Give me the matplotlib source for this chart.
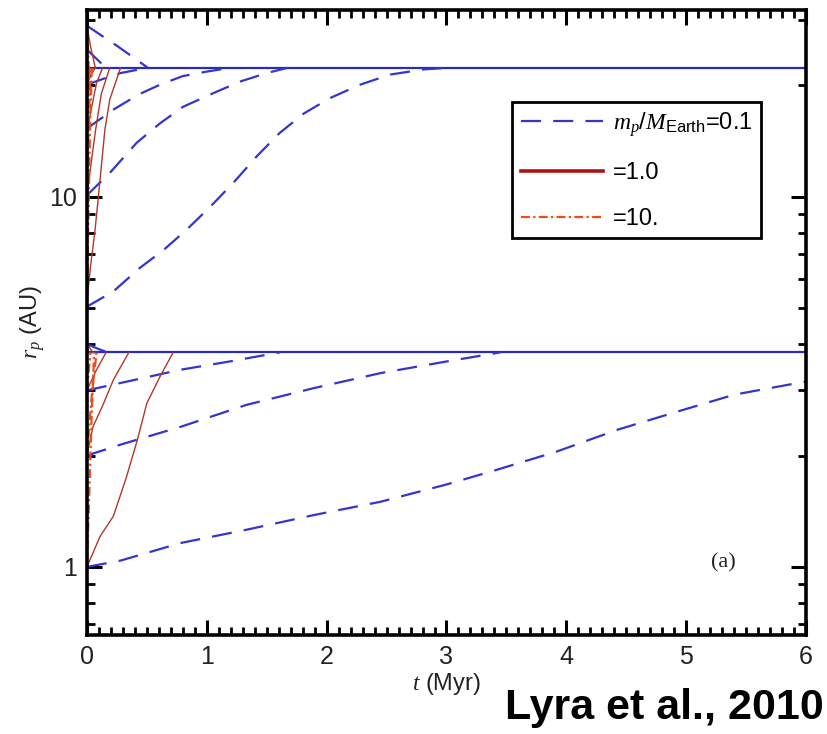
import matplotlib
matplotlib.use("Agg")
import matplotlib.pyplot as plt
from matplotlib.ticker import MultipleLocator, LogLocator, NullFormatter, FixedLocator, FixedFormatter

plt.rcParams['font.family'] = ['Liberation Sans', 'DejaVu Sans']
plt.rcParams['mathtext.fontset'] = 'custom'
plt.rcParams['mathtext.it'] = 'Liberation Serif:italic'
plt.rcParams['mathtext.rm'] = 'Liberation Sans'
plt.rcParams['mathtext.sf'] = 'Liberation Sans'

# planet-trap radii (AU) where migration stalls
r_trap = [22.3, 3.8]

# m_p = 0.1 M_Earth tracks: (t in Myr, r in AU)
low_t = [
    [0, 0.12, 0.25, 0.38, 0.51],
    [0, 0.08, 0.16],
    [0, 0.11, 0.28, 0.5],
    [0, 0.22, 0.43, 0.61, 0.80, 1.0, 1.19],
    [0, 0.19, 0.415, 0.61, 0.80, 1.06, 1.28, 1.50, 1.67],
    [0, 0.22, 0.44, 0.64, 0.83, 1.03, 1.22, 1.42, 1.61, 1.81, 2.03, 2.28, 2.53, 2.81, 3.0],
    [0, 0.08, 0.17],
    [0, 0.28, 0.78, 1.19, 1.61],
    [0, 0.28, 0.78, 1.33, 1.89, 2.45, 3.0, 3.45],
    [0, 0.28, 0.78, 1.33, 1.89, 2.45, 3.0, 3.42, 3.92, 4.43, 4.98, 5.40, 6.0],
]
low_r = [
    [29, 27.3, 25.6, 23.9, 22.3],
    [25, 23.6, 22.3],
    [20.1, 20.7, 21.6, 22.3],
    [15.3, 17.2, 18.9, 20.1, 21.2, 21.8, 22.3],
    [10.1, 11.6, 14.0, 15.8, 17.5, 19.1, 20.5, 21.6, 22.3],
    [5.05, 5.55, 6.42, 7.19, 8.14, 9.41, 10.9, 12.9, 14.9, 16.8, 18.5, 20.1, 21.4, 22.1, 22.3],
    [4.0, 3.9, 3.8],
    [3.0, 3.14, 3.41, 3.59, 3.8],
    [2.0, 2.14, 2.39, 2.74, 3.04, 3.34, 3.59, 3.8],
    [1.0, 1.04, 1.16, 1.26, 1.38, 1.50, 1.67, 1.83, 2.05, 2.35, 2.66, 2.92, 3.17],
]

# m_p = 1 M_Earth tracks
mid_t = [
    [0, 0.01, 0.03, 0.067, 0.09, 0.15, 0.19, 0.28],
    [0, 0.03, 0.07, 0.12, 0.19],
    [0, 0.04, 0.08, 0.13],
    [0, 0.03, 0.07],
    [0, 0.03, 0.07],
    [0, 0.11, 0.22, 0.33, 0.42, 0.50, 0.61, 0.72],
    [0, 0.05, 0.14, 0.22, 0.35],
    [0, 0.08, 0.16],
    [0, 0.05],
]
mid_r = [
    [5, 5.6, 6.5, 8.1, 9.6, 15.2, 18.3, 22.3],
    [10, 12, 15, 19, 22.3],
    [15, 17.5, 20.3, 22.3],
    [20, 21.3, 22.3],
    [29, 25.5, 22.3],
    [1, 1.21, 1.37, 1.75, 2.2, 2.77, 3.27, 3.8],
    [2, 2.39, 2.77, 3.2, 3.8],
    [3, 3.41, 3.8],
    [4, 3.8],
]

# m_p = 10 M_Earth tracks
high_t = [
    [0, 0.01, 0.025, 0.04],
    [0, 0.015, 0.03],
    [0, 0.02],
    [0, 0.01],
    [0, 0.015],
    [0, 0.02, 0.04, 0.06],
    [0, 0.04, 0.08],
    [0, 0.03],
    [0, 0.01],
]
high_r = [
    [5, 8, 15, 22.3],
    [10, 16, 22.3],
    [15, 22.3],
    [20, 22.3],
    [29, 22.3],
    [1, 1.6, 2.6, 3.8],
    [2, 2.9, 3.8],
    [3, 3.8],
    [4, 3.8],
]

blue = '#3434d0'
dred = '#b0382a'
ored = '#ee4a1c'

fig = plt.figure(figsize=(8.28, 7.34), dpi=100)
ax = fig.add_axes([0.105, 0.135, 0.8685, 0.8515])

for r in r_trap:
    ax.axhline(r, color='#2a2ac0', lw=1.6, zorder=1)

for i, (t, r) in enumerate(zip(low_t, low_r)):
    ax.plot(t, r, color=blue, lw=1.6, ls=(0, (9, 5.5)),
            label=r'$m_p/M_{\mathrm{Earth}}$=0.1' if i == 0 else None)
for i, (t, r) in enumerate(zip(mid_t, mid_r)):
    ax.plot(t, r, color=dred, lw=1.0,
            label='=1.0' if i == 0 else None)
for i, (t, r) in enumerate(zip(high_t, high_r)):
    ax.plot(t, r, color=ored, lw=1.6, ls=(0, (4, 1.5, 1, 1.5)),
            label='=10.' if i == 0 else None)

ax.set_yscale('log')
ax.set_xlim(0, 6)
ax.set_ylim(0.655, 32)

ax.xaxis.set_major_locator(MultipleLocator(1))
ax.xaxis.set_minor_locator(MultipleLocator(0.1))
ax.yaxis.set_major_locator(FixedLocator([1, 10]))
ax.yaxis.set_major_formatter(FixedFormatter(['1', '10']))
ax.yaxis.set_minor_locator(LogLocator(base=10, subs=range(2, 10)))
ax.yaxis.set_minor_formatter(NullFormatter())

ax.tick_params(which='both', direction='in', top=True, right=True,
               labelsize=18, labelcolor='#222222', pad=7)
ax.tick_params(which='major', length=11, width=2.2)
ax.tick_params(which='minor', length=6, width=2.0)
for s in ax.spines.values():
    s.set_linewidth(2.6)

ax.set_xlabel(r'$t$ (Myr)', fontsize=17, color='#222222', labelpad=2)
ax.set_ylabel(r'$r_p$ (AU)', fontsize=17, color='#222222', labelpad=2)

leg = ax.legend(loc='upper right', bbox_to_anchor=(0.937, 0.853), fontsize=17,
                handlelength=3.5, labelspacing=1.0, borderpad=0.35,
                borderaxespad=0, handletextpad=0.4, fancybox=False, framealpha=1)
leg.get_frame().set_edgecolor('black')
leg.get_frame().set_linewidth(2.0)
leg.legend_handles[1].set_linewidth(2.6)
leg.legend_handles[1].set_color('#b01010')

ax.text(0.885, 0.115, '(a)', transform=ax.transAxes, fontsize=16,
        family='Liberation Serif', ha='center', va='center', color='#222222')

fig.text(0.995, 0.036, 'Lyra et al., 2010', fontsize=31, fontweight='bold',
         ha='right', va='center')

fig.savefig('out.png', dpi=100)
